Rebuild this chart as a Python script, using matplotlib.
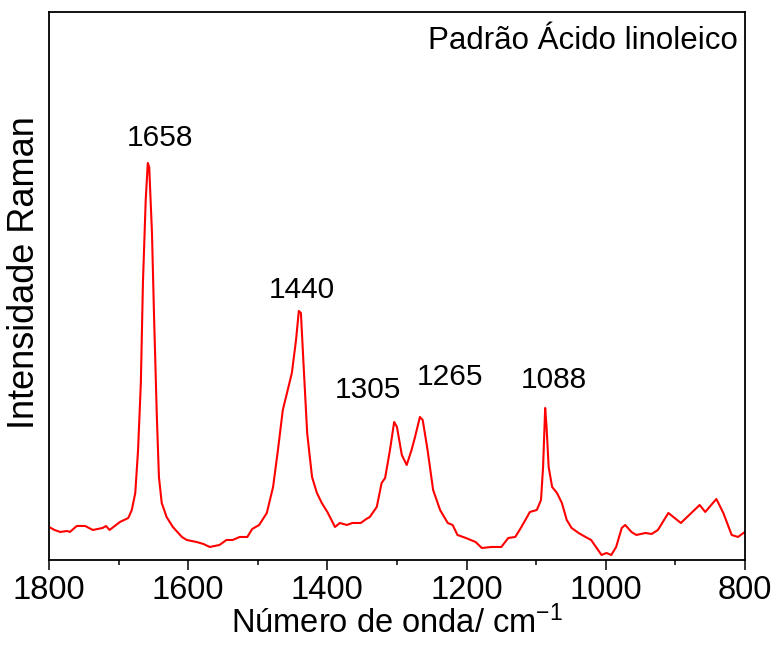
import matplotlib
matplotlib.use('Agg')
import matplotlib.pyplot as plt
from matplotlib import font_manager
from matplotlib.ticker import MultipleLocator

# spectrum (wavenumber in cm-1, intensity in arbitrary units)
wavenumber = [1800, 1792, 1784, 1774, 1770, 1760, 1748, 1737, 1723, 1718, 1713, 1698,
              1686, 1681, 1676, 1672, 1668, 1665, 1661, 1658, 1656, 1652, 1649, 1645,
              1642, 1638, 1631, 1622, 1609, 1602, 1588, 1578, 1569, 1555, 1545, 1536,
              1526, 1515, 1508, 1498, 1487, 1478, 1471, 1464, 1458, 1451, 1445, 1441,
              1438, 1434, 1429, 1422, 1415, 1408, 1400, 1389, 1382, 1372, 1364, 1352,
              1344, 1339, 1329, 1322, 1317, 1310, 1304, 1300, 1293, 1286, 1279, 1274,
              1267, 1263, 1256, 1248, 1238, 1227, 1220, 1213, 1201, 1187, 1178, 1164,
              1150, 1140, 1130, 1122, 1113, 1109, 1099, 1093, 1090, 1087, 1085, 1082,
              1077, 1070, 1063, 1056, 1049, 1039, 1029, 1021, 1011, 1006, 999, 992,
              985, 977, 972, 963, 956, 943, 934, 925, 910, 892, 877, 865, 857, 841,
              831, 819, 810, 800]
intensity = [33, 30, 28, 29, 28, 34, 34, 30, 32, 34, 30, 38,
             42, 50, 67, 110, 177, 277, 360, 397, 393, 327, 243, 143,
             83, 57, 43, 33, 23, 20, 18, 16, 13, 15, 20, 20,
             23, 23, 31, 35, 47, 73, 110, 150, 167, 187, 220, 249,
             247, 193, 127, 83, 67, 57, 48, 33, 37, 35, 37, 37,
             41, 43, 53, 77, 82, 110, 138, 133, 105, 95, 110, 123,
             143, 140, 110, 70, 50, 37, 35, 25, 22, 18, 12, 13,
             13, 22, 23, 32, 43, 48, 50, 60, 93, 152, 133, 93,
             73, 67, 57, 40, 32, 27, 23, 20, 10, 5, 7, 5,
             13, 32, 35, 28, 25, 27, 26, 30, 47, 37, 47, 55, 48, 61,
             47, 25, 23, 28]

peak_labels = ['1658', '1440', '1305', '1265', '1088']
label_x = [1640, 1436, 1342, 1224, 1074]
label_y = [422, 270, 170, 183, 180]

installed = {f.name for f in font_manager.fontManager.ttflist}
main_font = 'Liberation Sans' if 'Liberation Sans' in installed else 'DejaVu Sans'

plt.rcParams['font.family'] = [main_font, 'DejaVu Sans']
plt.rcParams['mathtext.default'] = 'regular'

fig, ax = plt.subplots(figsize=(7.8, 6.47), dpi=100)
fig.subplots_adjust(left=0.0628, right=0.955, bottom=0.1345, top=0.9815)

ax.plot(wavenumber, intensity, color='#ff0000', linewidth=1.5,
        solid_joinstyle='round')

ax.set_xlim(1800, 800)
ax.set_ylim(0, 548)
ax.set_yticks([])
ax.xaxis.set_major_locator(MultipleLocator(200))
ax.xaxis.set_minor_locator(MultipleLocator(100))
ax.tick_params(axis='x', which='major', direction='out', length=7.2, width=1.1,
               pad=3.5, labelsize=23.5)
ax.tick_params(axis='x', which='minor', direction='out', length=3.6, width=1.1)
for s in ax.spines.values():
    s.set_linewidth(1.3)

ax.set_xlabel('Número de onda/ cm$^{-1}$', fontsize=23.5, labelpad=0)
ax.set_ylabel('Intensidade Raman', fontsize=26)
ax.yaxis.set_label_coords(-0.01, 0.525)

for txt, x, y in zip(peak_labels, label_x, label_y):
    ax.text(x, y, txt, fontsize=21.5, ha='center', va='center')

ax.text(0.99, 0.975, 'Padrão Ácido linoleico', transform=ax.transAxes,
        fontsize=22.5, ha='right', va='top')

plt.savefig('out.png', dpi=100)
